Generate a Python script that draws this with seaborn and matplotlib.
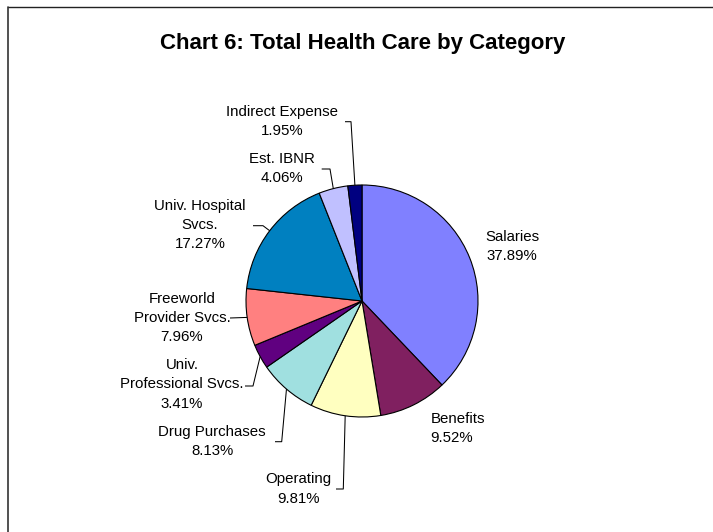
import matplotlib
matplotlib.use("Agg")
import matplotlib.pyplot as plt
import seaborn as sns
import numpy as np

# Spending shares by category (percent of total health care)
categories = ["Salaries", "Benefits", "Operating", "Drug Purchases",
              "Univ.\nProfessional Svcs.", "Freeworld\nProvider Svcs.",
              "Univ. Hospital\nSvcs.", "Est. IBNR", "Indirect Expense"]
shares = [37.89, 9.52, 9.81, 8.13, 3.41, 7.96, 17.27, 4.06, 1.95]
colors = ["#8080FF", "#802060", "#FFFFC0", "#A0E0E0", "#600080",
          "#FF8080", "#0080C0", "#C0C0FF", "#000080"]
title = "Chart 6: Total Health Care by Category"

sns.set_theme(style="white")
plt.rcParams["font.family"] = ["Liberation Sans", "DejaVu Sans"]

W, H = 713, 532
fig = plt.figure(figsize=(W / 100, H / 100), dpi=100)
ax = fig.add_axes([0, 0, 1, 1])

# work in pixel-like units, y measured from the top
def Y(y):
    return H - y

cx, cy, radius = 362, 301, 116
wedges, _ = ax.pie(shares, colors=colors, startangle=90, counterclock=False,
                   center=(cx, Y(cy)), radius=radius,
                   wedgeprops=dict(edgecolor="black", linewidth=0.8))
ax.set_xlim(0, W)
ax.set_ylim(0, H)
ax.set_aspect("equal", adjustable="box")
ax.axis("off")

# label block centres, alignment and leader-line layout (start x, y, elbow x)
label_pos = [(512, 246.3), (430.7, 428.7), (298, 489), (212, 441.7),
             (182, 384.5), (182, 317.8), (200, 225.3), (282, 168.7), (282, 121.2)]
label_ha = ["center", "left", "center", "center", "center",
            "center", "center", "center", "center"]
leaders = [None, None, (336, 489, 343.3), (275, 441.7, 281.7),
           (245, 386, 253), (230, 318, 230), (253, 225.7, 263),
           (321.7, 169, 330), (345, 121.7, 351)]

for w, name, val, (lx, ly), ha, lead in zip(wedges, categories, shares,
                                             label_pos, label_ha, leaders):
    ax.text(lx, Y(ly), f"{name}\n{val:.2f}%", ha=ha, va="center",
            multialignment=ha, fontsize=10.8, linespacing=1.47,
            color="black")
    if lead is not None:
        mid = np.deg2rad((w.theta1 + w.theta2) / 2)
        ex = w.center[0] + w.r * np.cos(mid)
        ey = w.center[1] + w.r * np.sin(mid)
        sx, sy, bx = lead
        ax.plot([sx, bx, ex], [Y(sy), Y(sy), ey], color="black",
                linewidth=0.75, solid_capstyle="butt")

ax.text(363, Y(43.5), title, ha="center", va="center",
        fontsize=16, fontweight="bold", color="black")

# frame edges along the top and left
ax.plot([8, W], [Y(7), Y(7)], color="#222222", linewidth=1.0, clip_on=False)
ax.plot([8, 8], [Y(7), 0], color="#333333", linewidth=1.2, clip_on=False)

fig.savefig("out.png", dpi=100, facecolor="white")
